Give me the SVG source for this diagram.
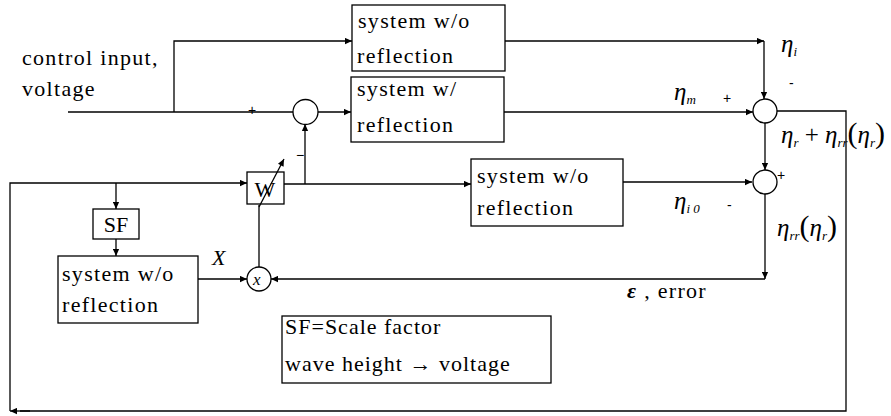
<svg xmlns="http://www.w3.org/2000/svg" width="891" height="416" viewBox="0 0 891 416">
<style>
.t{font-family:"Liberation Serif","Times New Roman",serif;font-size:22px;letter-spacing:1.3px;fill:#000}
.g{font-family:"Liberation Serif",serif;font-style:italic;font-size:25px;fill:#000}
.s{font-family:"Liberation Serif",serif;font-style:italic;font-size:13px}
.m{font-family:"Liberation Sans",sans-serif;font-size:14px;fill:#000}
.box{fill:#fff;stroke:#000;stroke-width:1.3}
.c{fill:#fff;stroke:#000;stroke-width:1.3}
.ln{fill:none;stroke:#000;stroke-width:1.3}
.ar{marker-end:url(#ah)}
</style>
<defs>
<marker id="ah" viewBox="0 0 10 10" refX="10" refY="5" markerWidth="9" markerHeight="7" orient="auto" markerUnits="userSpaceOnUse">
<path d="M0,0.5 L10,5 L0,9.5 z" fill="#000"/>
</marker>
</defs>
<rect width="891" height="416" fill="#fff"/>

<g id="connectors">
<line class="ln" x1="68" y1="112" x2="293" y2="112"/>
<polyline class="ln ar" points="174,112 174,41 352,41"/>
<line class="ln ar" x1="318" y1="112" x2="351" y2="112"/>
<line class="ln ar" x1="505" y1="41" x2="764" y2="41"/>
<line class="ln ar" x1="764" y1="41" x2="764" y2="99"/>
<line class="ln ar" x1="504" y1="112" x2="753" y2="112"/>
<polyline class="ln" points="777,111 846,111 846,411 20,411"/>
<line class="ln ar" x1="30" y1="411" x2="10" y2="411"/>
<polyline class="ln ar" points="10,411 10,183 247,183"/>
<line class="ln ar" x1="116" y1="183" x2="116" y2="209"/>
<line class="ln ar" x1="116" y1="239" x2="116" y2="256"/>
<line class="ln ar" x1="284" y1="184" x2="471" y2="184"/>
<line class="ln ar" x1="305" y1="184" x2="305" y2="124"/>
<line class="ln ar" x1="765" y1="123" x2="765" y2="170"/>
<line class="ln ar" x1="623" y1="182" x2="752" y2="182"/>
<line class="ln ar" x1="765" y1="194" x2="765" y2="279"/>
<line class="ln ar" x1="765" y1="279" x2="271" y2="279"/>
<line class="ln ar" x1="198" y1="279" x2="247" y2="279"/>
<line class="ln" x1="259" y1="205" x2="259" y2="267"/>
</g>

<g id="input-label">
<text class="t" x="22" y="65">control input,</text>
<text class="t" x="22" y="96">voltage</text>
<text class="m" x="248" y="115">+</text>
</g>

<g id="sys-wo-1">
<rect class="box" x="352" y="5" width="153" height="66"/>
<text class="t" x="358" y="28">system w/o</text>
<text class="t" x="357" y="63">reflection</text>
</g>

<g id="sys-w">
<rect class="box" x="351" y="77" width="153" height="65"/>
<text class="t" x="357" y="96">system w/</text>
<text class="t" x="357" y="132">reflection</text>
</g>

<g id="sys-wo-2">
<rect class="box" x="471" y="159" width="152" height="67"/>
<text class="t" x="477" y="183">system w/o</text>
<text class="t" x="477" y="215">reflection</text>
</g>

<g id="sys-wo-3">
<rect class="box" x="58" y="256" width="140" height="67"/>
<text class="t" x="62" y="281">system w/o</text>
<text class="t" x="62" y="312">reflection</text>
</g>

<g id="sf">
<rect class="box" x="93" y="209" width="46" height="30"/>
<text class="t" x="116" y="232" text-anchor="middle" style="letter-spacing:0">SF</text>
</g>

<g id="w">
<rect class="box" x="247" y="172" width="37" height="32"/>
<text class="t" x="265" y="197" text-anchor="middle" style="letter-spacing:0">W</text>
<line class="ln ar" x1="259" y1="207" x2="284" y2="159"/>
</g>

<g id="sum1">
<circle class="c" cx="305.5" cy="112" r="12.5"/>
<text class="m" x="296" y="160">−</text>
</g>

<g id="mult">
<circle class="c" cx="259" cy="279" r="12"/>
<text class="g" x="253" y="285" style="font-size:17px">x</text>
<text class="g" x="212" y="265" style="font-size:22px">X</text>
</g>

<g id="sum2">
<circle class="c" cx="765" cy="111" r="12"/>
<text class="m" x="789" y="88">-</text>
<text class="m" x="723" y="103">+</text>
<text class="g" x="781" y="52">η<tspan class="s" dy="4">i</tspan></text>
<text class="g" x="674" y="100">η<tspan class="s" dy="4">m</tspan></text>
</g>

<g id="sum3">
<circle class="c" cx="765" cy="182" r="12"/>
<text class="m" x="777" y="180">+</text>
<text class="m" x="727" y="210">-</text>
<text class="g" x="674" y="209">η<tspan class="s" dy="4">i 0</tspan></text>
<text class="g" x="781" y="143">η<tspan class="s" dy="4">r</tspan><tspan dy="-4" style="font-style:normal"> + </tspan>η<tspan class="s" dy="4">rr</tspan><tspan dy="-4" style="font-style:normal;font-size:30px">(</tspan>η<tspan class="s" dy="4">r</tspan><tspan dy="-4" style="font-style:normal;font-size:30px">)</tspan></text>
<text class="g" x="777" y="236">η<tspan class="s" dy="4">rr</tspan><tspan dy="-4" style="font-style:normal;font-size:30px">(</tspan>η<tspan class="s" dy="4">r</tspan><tspan dy="-4" style="font-style:normal;font-size:30px">)</tspan></text>
</g>

<g id="error-label">
<text class="t" x="627" y="298"><tspan style="font-style:italic;font-weight:bold">ε</tspan> , error</text>
</g>

<g id="legend">
<rect class="box" x="282" y="316" width="269" height="67"/>
<text class="t" x="285" y="334" style="letter-spacing:1px">SF=Scale  factor</text>
<text class="t" x="285" y="371" style="letter-spacing:1px">wave height → voltage</text>
</g>
</svg>
